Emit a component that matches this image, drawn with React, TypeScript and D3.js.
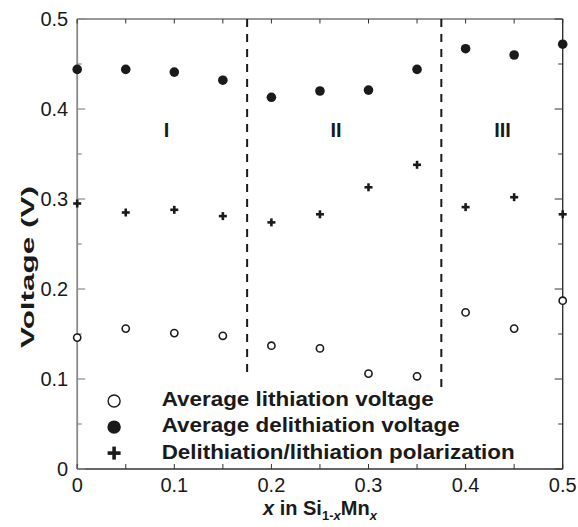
import React from "react";
import * as d3 from "d3";

const xValues = [0, 0.05, 0.1, 0.15, 0.2, 0.25, 0.3, 0.35, 0.4, 0.45, 0.5];
const lithiation = [0.146, 0.156, 0.151, 0.148, 0.137, 0.134, 0.106, 0.103, 0.174, 0.156, 0.187];
const delithiation = [0.444, 0.444, 0.441, 0.432, 0.413, 0.42, 0.421, 0.444, 0.467, 0.46, 0.472];
const polarization = [0.295, 0.285, 0.288, 0.281, 0.274, 0.283, 0.313, 0.338, 0.291, 0.302, 0.283];

const xMajorTicks = [0, 0.1, 0.2, 0.3, 0.4, 0.5];
const xMinorTicks = [0.05, 0.15, 0.25, 0.35, 0.45];
const yMajorTicks = [0, 0.1, 0.2, 0.3, 0.4, 0.5];
const yMinorTicks = [0.05, 0.15, 0.25, 0.35, 0.45];

const boundaries = [0.175, 0.375];
const boundaryEnds = [0.106, 0.091];
const regionLabels = ["I", "II", "III"];
const regionX = [0.092, 0.2665, 0.438];
const regionY = 0.369;

const legendLabels = [
  "Average lithiation voltage",
  "Average delithiation voltage",
  "Delithiation/lithiation polarization",
];
const legendWidths = [272, 298, 353];

const W = 578;
const H = 527;
const margin = { left: 77.2, right: 15.3, top: 19, bottom: 58 };
const FONT = "'Liberation Sans', Arial, sans-serif";
const INK = "#1a1a1a";

const x = d3.scaleLinear().domain([0, 0.5]).range([margin.left, W - margin.right]);
const y = d3.scaleLinear().domain([0, 0.5]).range([H - margin.bottom, margin.top]);

function Plus({ cx, cy, r, w }: { cx: number; cy: number; r: number; w: number }) {
  return (
    <g stroke={INK} strokeWidth={w}>
      <line x1={cx - r} x2={cx + r} y1={cy} y2={cy} />
      <line x1={cx} x2={cx} y1={cy - r} y2={cy + r} />
    </g>
  );
}

export default function App() {
  const x0 = x(0);
  const x1 = x(0.5);
  const yb = y(0);
  const yt = y(0.5);
  const axisDark = "#333";
  const axisGray = "#8a8a8a";
  const legendX = x(0.038);
  const legendTextX = x(0.087);
  const legendRows = [0.07, 0.041, 0.011];

  return (
    <svg
      width={W}
      height={H}
      style={{ position: "absolute", left: 0, top: 0, background: "#fff" }}
      fontFamily={FONT}
    >
      {/* frame */}
      <line x1={x0} x2={x1} y1={yt} y2={yt} stroke={axisDark} strokeWidth={1.2} />
      <line x1={x0} x2={x1} y1={yb} y2={yb} stroke={axisDark} strokeWidth={1.4} />
      <line x1={x1} x2={x1} y1={yt} y2={yb} stroke={axisDark} strokeWidth={1.4} />
      <line x1={x0} x2={x0} y1={yt} y2={yb} stroke={axisGray} strokeWidth={1.8} />

      {/* x ticks (inward, top and bottom) */}
      {[...xMajorTicks, ...xMinorTicks].map((t, i) => (
        <g key={"xt" + i}>
          <line x1={x(t)} x2={x(t)} y1={yb} y2={yb - 5} stroke={axisDark} strokeWidth={1} />
          <line x1={x(t)} x2={x(t)} y1={yt} y2={yt + 4.5} stroke={axisDark} strokeWidth={1} />
        </g>
      ))}
      {/* y ticks */}
      {yMajorTicks.map((t, i) => (
        <g key={"ym" + i}>
          <line x1={x0} x2={x0 + 8} y1={y(t)} y2={y(t)} stroke={axisGray} strokeWidth={1.2} />
          <line x1={x1} x2={x1 - 8} y1={y(t)} y2={y(t)} stroke={axisDark} strokeWidth={1} />
        </g>
      ))}
      {yMinorTicks.map((t, i) => (
        <g key={"yn" + i}>
          <line x1={x0} x2={x0 + 4.5} y1={y(t)} y2={y(t)} stroke={axisGray} strokeWidth={1.2} />
          <line x1={x1} x2={x1 - 4.5} y1={y(t)} y2={y(t)} stroke={axisDark} strokeWidth={1} />
        </g>
      ))}

      {/* tick labels */}
      {xMajorTicks.map((t, i) => (
        <text
          key={"xl" + i}
          x={x(t)}
          y={yb + 23}
          textAnchor="middle"
          fontSize={20}
          fill={INK}
        >
          {d3.format("")(t)}
        </text>
      ))}
      {yMajorTicks.map((t, i) => (
        <text
          key={"yl" + i}
          x={x0 - 9}
          y={y(t)}
          dy="0.36em"
          textAnchor="end"
          fontSize={20}
          fill={INK}
        >
          {d3.format("")(t)}
        </text>
      ))}

      {/* axis titles */}
      <text
        transform={`translate(34, 267) rotate(-90)`}
        textAnchor="middle"
        fontSize={19}
        fontWeight="bold"
        fill={INK}
        textLength={162}
        lengthAdjust="spacingAndGlyphs"
      >
        Voltage (V)
      </text>
      <text x={(x0 + x1) / 2} y={515} textAnchor="middle" fontSize={20} fontWeight="bold" fill={INK}>
        <tspan fontStyle="italic">x</tspan>
        <tspan> in Si</tspan>
        <tspan fontSize={13} dy={5}>1-</tspan>
        <tspan fontSize={13} fontStyle="italic">x</tspan>
        <tspan dy={-5}>Mn</tspan>
        <tspan fontSize={13} dy={5} fontStyle="italic">x</tspan>
      </text>

      {/* region boundaries */}
      {boundaries.map((b, i) => (
        <line
          key={"b" + i}
          x1={x(b)}
          x2={x(b)}
          y1={yt}
          y2={y(boundaryEnds[i])}
          stroke={INK}
          strokeWidth={2}
          strokeDasharray="8,7"
        />
      ))}
      {regionLabels.map((l, i) => (
        <text
          key={"r" + i}
          x={x(regionX[i])}
          y={y(regionY)}
          textAnchor="middle"
          fontSize={20}
          fontWeight="bold"
          fill={INK}
        >
          {l}
        </text>
      ))}

      {/* data */}
      {xValues.map((v, i) => (
        <circle key={"d" + i} cx={x(v)} cy={y(delithiation[i])} r={4.8} fill={INK} />
      ))}
      {xValues.map((v, i) => (
        <Plus key={"p" + i} cx={x(v)} cy={y(polarization[i])} r={4} w={2.6} />
      ))}
      {xValues.map((v, i) => (
        <circle
          key={"l" + i}
          cx={x(v)}
          cy={y(lithiation[i])}
          r={3.6}
          fill="#fff"
          stroke={INK}
          strokeWidth={1.6}
        />
      ))}

      {/* legend */}
      <circle cx={legendX} cy={y(legendRows[0]) - 5} r={6} fill="#fff" stroke={INK} strokeWidth={1.4} />
      <circle cx={legendX} cy={y(legendRows[1]) - 5} r={6.7} fill={INK} />
      <Plus cx={legendX} cy={y(legendRows[2]) - 6} r={6.5} w={3.6} />
      {legendLabels.map((l, i) => (
        <text
          key={"lg" + i}
          x={legendTextX}
          y={y(legendRows[i])}
          fontSize={20}
          fontWeight="bold"
          fill={INK}
          textLength={legendWidths[i]}
          lengthAdjust="spacingAndGlyphs"
        >
          {l}
        </text>
      ))}
    </svg>
  );
}
